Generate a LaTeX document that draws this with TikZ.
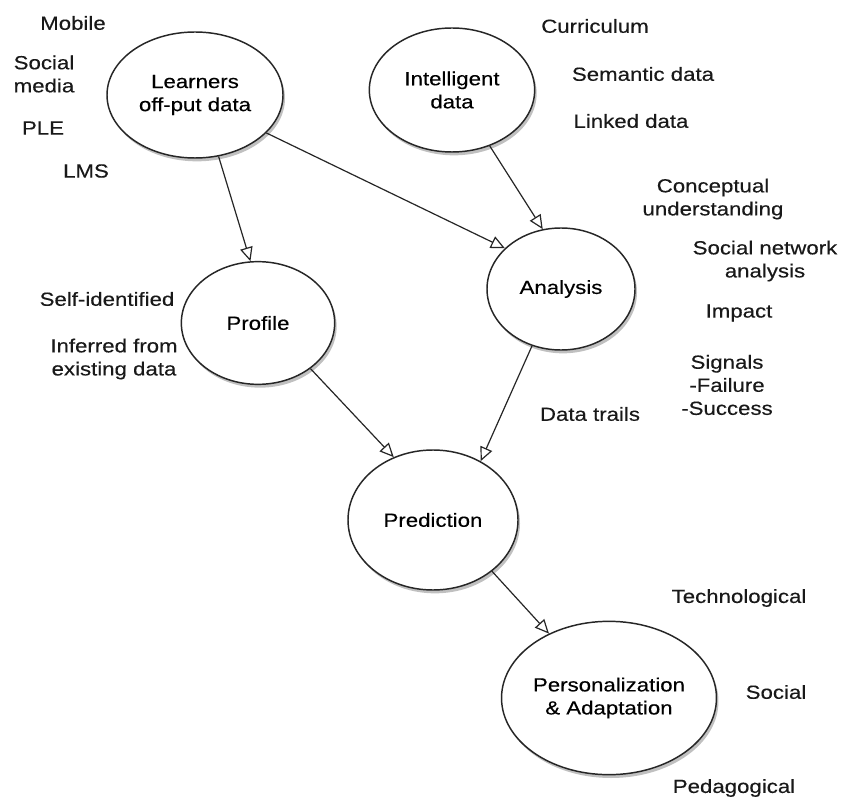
\documentclass[tikz,border=0pt]{standalone}
\usepackage{fontspec}
\setmainfont{Liberation Sans}[FakeStretch=1.17,FakeBold=0.3]
\usetikzlibrary{shapes.geometric,arrows.meta,shadows}
\begin{document}
\begin{tikzpicture}[x=0.75pt,y=-0.75pt,
  font=\fontsize{14.25pt}{17.3pt}\selectfont,
  bubble/.style={ellipse, draw=black!85, line width=1.1pt, fill=white, align=center, inner sep=0pt,
    drop shadow={shadow xshift=1.5pt, shadow yshift=-2.5pt, opacity=0.35, fill=black!70}},
  lbl/.style={align=center, inner sep=0pt, text=black!90},
  conn/.style={line width=0.9pt, draw=black!85, -{Triangle[open, length=10.5pt, width=9.5pt, line width=0.9pt]}}]
\useasboundingbox (0,0) rectangle (842,798);
\fill[white] (0,0) rectangle (842,798);
% bubbles
\node[bubble, minimum width=132pt, minimum height=94.5pt] (learn) at (195,95) {Learners\\off-put data};
\node[bubble, minimum width=124pt, minimum height=93pt] (intel) at (452,90) {Intelligent\\data};
\node[bubble, minimum width=111pt, minimum height=91.5pt] (anal) at (561,289) {Analysis};
\node[bubble, minimum width=115pt, minimum height=92pt] (prof) at (258,323) {Profile};
\node[bubble, minimum width=127.5pt, minimum height=105pt] (pred) at (433,520) {Prediction};
\node[bubble, minimum width=156pt, minimum height=115pt] (pers) at (609,698) {Personalization\\\& Adaptation};
% connectors
\draw[conn] (learn.-69) -- (prof.97);
\draw[conn] (learn.-28) -- (anal.144);
\draw[conn] (intel.-56) -- (anal.107);
\draw[conn] (prof.-41) -- (pred.122);
\draw[conn] (anal.-117) -- (pred.51);
\draw[conn] (pred.-41) -- (pers.133);
% labels
\node[lbl] (l1) at (73,23) {Mobile};
\node[lbl, align=left] (l2) at (44,74) {Social\\media};
\node[lbl] (l3) at (43,128) {PLE};
\node[lbl] (l4) at (86,171) {LMS};
\node[lbl] (l5) at (595,26) {Curriculum};
\node[lbl] (l6) at (643,74) {Semantic data};
\node[lbl] (l7) at (631,121) {Linked data};
\node[lbl] (l8) at (713,199) {Conceptual\\understanding};
\node[lbl] (l9) at (765,261) {Social network\\analysis};
\node[lbl] (l10) at (739,313) {Impact};
\node[lbl] (l11) at (727,385) {Signals\\-Failure\\-Success};
\node[lbl] (l12) at (107,299) {Self-identified};
\node[lbl] (l13) at (114,359) {Inferred from\\existing data};
\node[lbl] (l14) at (590,414) {Data trails};
\node[lbl] (l15) at (739,598) {Technological};
\node[lbl] (l16) at (776,692) {Social};
\node[lbl] (l17) at (734,788) {Pedagogical};
\end{tikzpicture}
\end{document}
